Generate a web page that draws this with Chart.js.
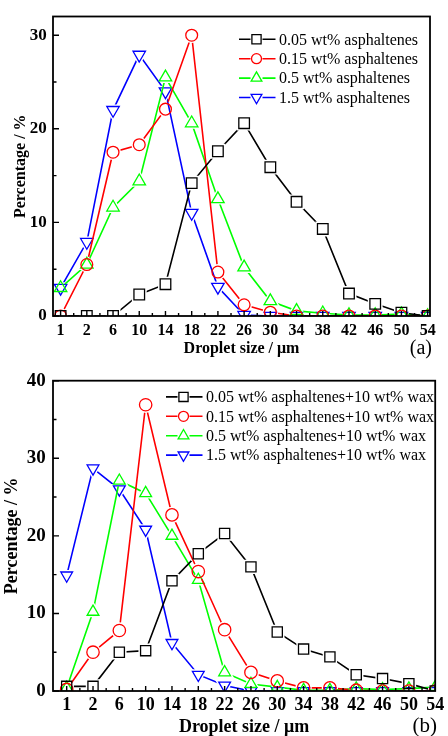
<!DOCTYPE html>
<html><head><meta charset="utf-8">
<script src="https://cdn.jsdelivr.net/npm/chart.js@4.4.1/dist/chart.umd.min.js"></script>
<style>
html,body{margin:0;padding:0;background:#fff;width:448px;height:736px;overflow:hidden}
canvas{position:absolute;left:0}
#ca{top:0}
#cb{top:362px}
</style></head><body>
<canvas id="ca" width="448" height="362"></canvas>
<canvas id="cb" width="448" height="380"></canvas>
<script>
// ---- data ----
const sizeLabels = ['1','2','6','10','14','18','22','26','30','34','38','42','46','50','54'];
const yTicksA = [0,10,20,30];
const yTicksB = [0,10,20,30,40];
const namesA = ['0.05 wt% asphaltenes','0.15 wt% asphaltenes','0.5 wt% asphaltenes','1.5 wt% asphaltenes'];
const namesB = ['0.05 wt% asphaltenes+10 wt% wax','0.15 wt% asphaltenes+10 wt% wax','0.5 wt% asphaltenes+10 wt% wax','1.5 wt% asphaltenes+10 wt% wax'];
const a005 = [0,0,0,2.3,3.4,14.2,17.6,20.6,15.9,12.2,9.3,2.4,1.3,0.35,0];
const a015 = [0,5.5,17.5,18.3,22.1,30.0,4.7,1.2,0.4,0,0,0,0,0,0];
const a05  = [3.0,5.5,11.6,14.4,25.5,20.6,12.5,5.2,1.6,0.55,0.3,0.1,0.1,0.2,0];
const a15  = [3.0,7.9,22.0,27.9,24.0,11.0,3.1,0.1,0,0,0,0,0,0,0];
const b005 = [0.6,0.6,5.0,5.2,14.2,17.7,20.3,16.0,7.6,5.4,4.4,2.1,1.6,0.95,0];
const b015 = [0.2,5.0,7.8,36.9,22.7,15.4,7.9,2.4,1.3,0.4,0.4,0.1,0,0,0];
const b05  = [0.4,10.2,27.1,25.5,20.0,14.3,2.4,0.9,0.5,0.1,0.1,0.3,0.2,0.3,0.5];
const b15  = [14.9,28.7,26.0,20.8,6.2,2.1,0.7,0,0,0,0,0,0,0,0];

const COLORS = ['#000000','#ff0000','#00ff00','#0000ff'];
const STYLES = [['rect',0],['circle',0],['triangle',0],['triangle',180]];
const FONT = "'Liberation Serif','Times New Roman',serif";

function shapePath(ctx, style, x, y, r, rot) {
  if (style === 'rect') { const h = Math.SQRT1_2 * r; ctx.rect(x-h, y-h, 2*h, 2*h); }
  else if (style === 'circle') { ctx.moveTo(x+r, y); ctx.arc(x, y, r, 0, Math.PI*2); }
  else {
    let a = (rot||0) * Math.PI/180;
    ctx.moveTo(x + Math.sin(a)*r, y - Math.cos(a)*r);
    a += 2*Math.PI/3; ctx.lineTo(x + Math.sin(a)*r, y - Math.cos(a)*r);
    a += 2*Math.PI/3; ctx.lineTo(x + Math.sin(a)*r, y - Math.cos(a)*r);
    ctx.closePath();
  }
}

function buildDatasets(seriesList, radii) {
  const out = [];
  seriesList.forEach((vals, k) => {
    const data = vals.map((v, i) => ({x: i, y: v}));
    const [style, rot] = STYLES[k];
    const r = radii[k];
    const gapR = style === 'rect' ? r + 3 : (style === 'circle' ? r + 2 : r + 4);
    out.push({ data, showLine: true, borderColor: COLORS[k], borderWidth: 1.6, pointRadius: 0,
      fill: false, tension: 0, clip: 0, gapStyle: style, gapRadius: gapR, gapRotation: rot });
    out.push({ data, showLine: false, pointStyle: style, pointRadius: r, pointHoverRadius: r, pointRotation: rot,
      pointBorderColor: COLORS[k], pointBackgroundColor: 'rgba(0,0,0,0)', pointBorderWidth: 1.3, clip: 0 });
  });
  return out;
}

const gapPlugin = {
  id: 'gaps',
  beforeDatasetDraw(chart, args) {
    const ds = chart.data.datasets[args.index];
    if (!ds.gapStyle) return;
    const ctx = chart.ctx;
    ctx.save();
    ctx.beginPath();
    ctx.rect(0, 0, chart.width, chart.height);
    args.meta.data.forEach(p => shapePath(ctx, ds.gapStyle, p.x, p.y, ds.gapRadius, ds.gapRotation));
    ctx.clip('evenodd');
  },
  afterDatasetDraw(chart, args) {
    const ds = chart.data.datasets[args.index];
    if (ds.gapStyle) chart.ctx.restore();
  }
};

function decoPlugin(cfg) {
  return {
    id: 'deco',
    afterDraw(chart) {
      const ctx = chart.ctx, a = chart.chartArea;
      const xs = chart.scales.x, ys = chart.scales.y;
      ctx.save();
      // ticks
      ctx.strokeStyle = '#000'; ctx.lineWidth = 1.4;
      ctx.beginPath();
      sizeLabels.forEach((_, i) => {
        const px = xs.getPixelForValue(i);
        ctx.moveTo(px, a.bottom); ctx.lineTo(px, a.bottom - 5);
        if (i < sizeLabels.length - 1) {
          const mx = xs.getPixelForValue(i + 0.5);
          ctx.moveTo(mx, a.bottom); ctx.lineTo(mx, a.bottom - 3);
        }
      });
      cfg.yTicks.forEach((v, i) => {
        const py = ys.getPixelForValue(v);
        ctx.moveTo(a.left, py); ctx.lineTo(a.left + 6, py);
        const m = v + 5;
        if (m < ys.max) {
          const my = ys.getPixelForValue(m);
          ctx.moveTo(a.left, my); ctx.lineTo(a.left + 3.5, my);
        }
      });
      ctx.stroke();
      // frame
      ctx.lineWidth = 1.8;
      ctx.strokeRect(a.left, a.top, a.right - a.left, a.bottom - a.top);
      // legend
      ctx.font = '16px ' + FONT;
      ctx.textBaseline = 'middle';
      ctx.textAlign = 'left';
      cfg.names.forEach((name, k) => {
        const y = cfg.ly + k * 19.4;
        const lx = cfg.lx;
        ctx.strokeStyle = COLORS[k]; ctx.lineWidth = 1.6;
        ctx.beginPath();
        ctx.moveTo(lx, y); ctx.lineTo(lx + 11.5, y);
        ctx.moveTo(lx + 23.5, y); ctx.lineTo(lx + 36.5, y);
        ctx.stroke();
        const [style, rot] = STYLES[k];
        const lr = style === 'rect' ? 6.5 : (style === 'circle' ? 5 : 6.2);
        ctx.lineWidth = 1.3;
        ctx.beginPath();
        shapePath(ctx, style, lx + 17.5, y, lr, rot);
        ctx.stroke();
        ctx.fillStyle = '#000';
        ctx.fillText(name, lx + 40, y + 1);
      });
      // panel label
      ctx.font = cfg.labelSize + 'px ' + FONT;
      ctx.textAlign = 'right';
      ctx.textBaseline = 'alphabetic';
      ctx.fillStyle = '#000';
      ctx.fillText(cfg.label, cfg.labelX, cfg.labelY);
      ctx.restore();
    }
  };
}

function makeChart(id, seriesList, radii, o) {
  return new Chart(document.getElementById(id), {
    type: 'scatter',
    data: { datasets: buildDatasets(seriesList, radii) },
    options: {
      responsive: false, animation: false, devicePixelRatio: 1,
      layout: { padding: { top: o.padTop, right: o.padRight, left: 0, bottom: 0 } },
      plugins: { legend: { display: false }, tooltip: { enabled: false } },
      scales: {
        x: {
          type: 'linear', min: o.xmin, max: o.xmax,
          afterBuildTicks: s => { s.ticks = sizeLabels.map((_, i) => ({ value: i })); },
          afterFit: s => { s.height = o.xHeight; },
          ticks: { callback: v => sizeLabels[v], autoSkip: false, maxRotation: 0, minRotation: 0,
            color: '#000', padding: o.xTickPad, font: { family: FONT, size: o.xTickSize, weight: 'bold' } },
          grid: { display: false, drawTicks: false }, border: { display: false },
          title: { display: true, text: 'Droplet size / μm', color: '#000',
            font: { family: FONT, size: o.titleSize, weight: 'bold' }, padding: { top: 0, bottom: o.xTitlePad } }
        },
        y: {
          type: 'linear', min: 0, max: o.ymax,
          afterBuildTicks: s => { s.ticks = o.yTicks.map(v => ({ value: v })); },
          afterFit: s => { s.width = 53; },
          ticks: { color: '#000', padding: o.yTickPad, font: { family: FONT, size: o.yTickSize, weight: 'bold' } },
          grid: { display: false, drawTicks: false }, border: { display: false },
          title: { display: true, text: 'Percentage / %', color: '#000',
            font: { family: FONT, size: o.titleSize, weight: 'bold' }, padding: { top: o.yTitlePad, bottom: 0 } }
        }
      }
    },
    plugins: [gapPlugin, decoPlugin({ yTicks: o.yTicks, names: o.names, lx: o.lx, ly: o.ly,
      label: o.label, labelX: o.labelX, labelY: o.labelY, labelSize: o.labelSize })]
  });
}

makeChart('ca', [a005, a015, a05, a15], [7.5, 5.9, 7.2, 7.2], {
  padTop: 15, padRight: 18, xmin: -0.29, xmax: 14.09, xHeight: 46, xTickPad: 5.5, xTickSize: 16,
  titleSize: 16, xTitlePad: 3.8, ymax: 32, yTicks: yTicksA, yTickPad: 6.3, yTickSize: 17, yTitlePad: 11.4,
  names: namesA, lx: 239, ly: 39.3, label: '(a)', labelX: 432, labelY: 354, labelSize: 20
});
makeChart('cb', [b005, b015, b05, b15], [7.2, 6.2, 6.8, 6.8], {
  padTop: 17, padRight: 10.5, xmin: -0.52, xmax: 14.0, xHeight: 51, xTickPad: 3.8, xTickSize: 18,
  titleSize: 18, xTitlePad: 3.7, ymax: 40, yTicks: yTicksB, yTickPad: 7.3, yTickSize: 19, yTitlePad: 1.7,
  names: namesB, lx: 166, ly: 34.9, label: '(b)', labelX: 437, labelY: 370, labelSize: 21
});
</script>
</body></html>
